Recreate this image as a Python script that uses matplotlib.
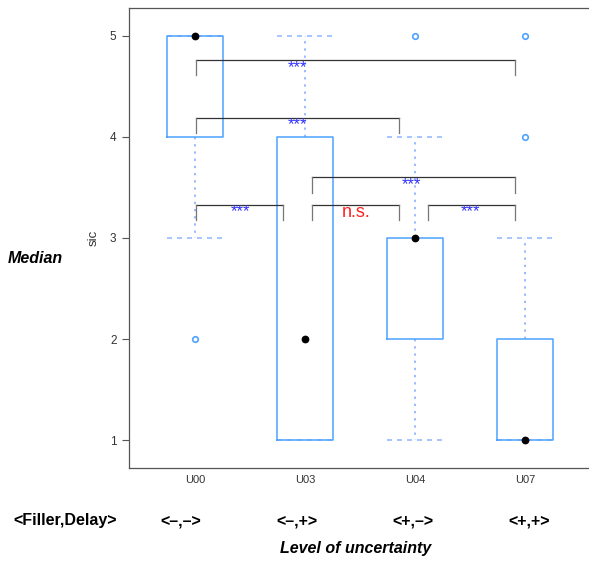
import matplotlib
matplotlib.use("Agg")
import matplotlib.pyplot as plt

plt.rcParams['font.family'] = ['Liberation Sans', 'DejaVu Sans']

# box data per level of uncertainty
groups = ["U00", "U03", "U04", "U07"]
combos = ["<–,–>", "<–,+>", "<+,–>", "<+,+>"]
q1 = [4, 1, 2, 1]
med = [5, 2, 3, 1]
q3 = [5, 4, 3, 2]
whislo = [3, 1, 1, 1]
whishi = [5, 5, 4, 3]
fliers = [[2], [], [5], [4, 5]]

# significance brackets: x from, x to, bracket height, label x, label
br_x1 = [1.01, 1.01, 2.06, 1.01, 2.06, 3.12]
br_x2 = [3.91, 2.855, 3.91, 1.80, 2.855, 3.91]
br_y = [4.76, 4.19, 3.60, 3.33, 3.33, 3.33]
br_lx = [1.93, 1.93, 2.97, 1.41, 2.46, 3.50]
br_lab = ["***", "***", "***", "***", "n.s.", "***"]

box_col = "#4da3ff"
light_col = "#99bbff"

fig = plt.figure(figsize=(5.89, 5.61), dpi=100)
ax = fig.add_axes([129/589, 93/561, 460/589, 460/561])

stats = []
for i, g in enumerate(groups):
    stats.append(dict(label=g, q1=q1[i], med=med[i], q3=q3[i],
                      whislo=whislo[i], whishi=whishi[i], fliers=fliers[i]))

pos = list(range(1, len(groups) + 1))
ax.bxp(stats, positions=pos, widths=0.51, capwidths=0.51,
       boxprops=dict(color=box_col, linewidth=1.1, zorder=3),
       whiskerprops=dict(color=light_col, linewidth=1.4, linestyle=(0, (1.2, 2.5)), zorder=1),
       capprops=dict(color=light_col, linewidth=1.2, linestyle=(0, (3, 3)), zorder=1),
       medianprops=dict(linestyle='none'),
       flierprops=dict(marker='o', markerfacecolor='none', markeredgecolor=box_col,
                       markersize=4, markeredgewidth=1.2))
ax.scatter(pos, med, s=21, color='black', zorder=5)

for x1, x2, y, lx, lab in zip(br_x1, br_x2, br_y, br_lx, br_lab):
    ax.plot([x1, x2], [y, y], color='#333333', lw=0.9, zorder=4)
    ax.plot([x1, x1], [y, y - 0.15], color='#777777', lw=0.9, zorder=4)
    ax.plot([x2, x2], [y, y - 0.15], color='#777777', lw=0.9, zorder=4)
    if lab == "n.s.":
        ax.text(lx, y - 0.08, lab, color='#ff2020', fontsize=13,
                ha='center', va='center', zorder=6)
    else:
        ax.text(lx, y + 0.005, lab, color='#3333ff', fontsize=12,
                ha='center', va='top', zorder=6)

ax.set_xlim(0.4, 4.58)
ax.set_ylim(0.723, 5.277)
ax.set_yticks([1, 2, 3, 4, 5])
ax.set_xticks(pos)
ax.set_xticklabels(groups)
ax.tick_params(axis='x', length=0, pad=5, labelsize=8, labelcolor='#333333')
ax.tick_params(axis='y', length=5, width=0.8, color='#555555', pad=4,
               labelsize=8.5, labelcolor='#333333')
for s in ['left', 'bottom', 'top']:
    ax.spines[s].set_color('#555555')
    ax.spines[s].set_linewidth(0.9)
ax.spines['right'].set_visible(False)
ax.set_ylabel("sic", fontsize=9.5, color='#333333', labelpad=7)

fig.text(8/589, 1 - 258/561, "Median", fontsize=11.5, fontweight='bold',
         fontstyle='italic', ha='left', va='center')
fig.text(13/589, 1 - 521/561, "<Filler,Delay>", fontsize=11.5, fontweight='bold',
         ha='left', va='center')
for cx, c in zip([181, 297, 413, 529], combos):
    fig.text(cx/589, 1 - 521/561, c, fontsize=11.5, fontweight='bold',
             ha='center', va='center')
fig.text(356/589, 1 - 549/561, "Level of uncertainty", fontsize=11.5,
         fontweight='bold', fontstyle='italic', ha='center', va='center')

fig.savefig("out.png", dpi=100)
